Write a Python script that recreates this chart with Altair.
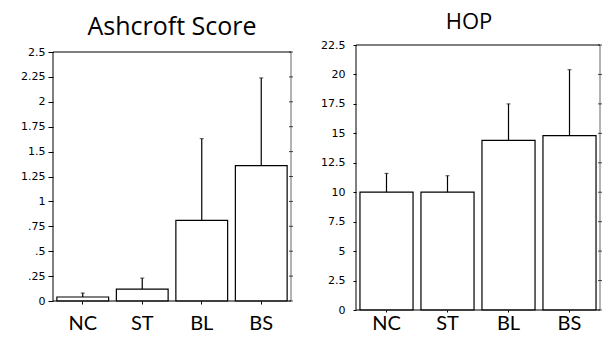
import altair as alt
import pandas as pd

# Group labels and summary statistics (mean and SEM) for both panels
groups = ["NC", "ST", "BL", "BS"]
ashcroft_mean = [0.04, 0.12, 0.81, 1.36]
ashcroft_sem = [0.04, 0.11, 0.82, 0.88]
hop_mean = [10.0, 10.0, 14.4, 14.8]
hop_sem = [1.6, 1.4, 3.1, 5.6]

ashcroft_ticks = [0, 0.25, 0.5, 0.75, 1, 1.25, 1.5, 1.75, 2, 2.25, 2.5]
hop_ticks = [0, 2.5, 5, 7.5, 10, 12.5, 15, 17.5, 20, 22.5]

TICK_FONT = "DejaVu Sans"
TEXT_FONT = "Lato"
TITLE_FONT = "Open Sans"


def panel(title, means, sems, ticks, y_top, y_max, width, height,
          title_size, title_dx, title_offset, label_pad, x_tick,
          y_tick, y_pad):
    df = pd.DataFrame({
        "group": groups,
        "mean": means,
        "upper": [m + s for m, s in zip(means, sems)],
    })
    frame = pd.DataFrame({"lo": [0.0], "hi": [y_top]})
    tick_df = pd.DataFrame({"tick": ticks})

    xscale = alt.Scale(paddingInner=0.13, paddingOuter=0.065)
    yscale = alt.Scale(domain=[0, y_max], nice=False, zero=True)

    label_expr = ("datum.value > 0 && datum.value < 1 ? "
                  "substring(toString(datum.value), 1) : toString(datum.value)")

    x_bottom = alt.X("group:N", sort=groups, scale=xscale, title=None,
                     axis=alt.Axis(orient="bottom", domain=False,
                                   ticks=True, tickSize=x_tick, tickColor="black",
                                   labelAngle=0, labelFont=TEXT_FONT, labelFontSize=20,
                                   labelColor="black", labelPadding=label_pad,
                                   grid=False))
    # one shared axis definition for every layer that encodes y
    y_axis = alt.Axis(orient="left", values=ticks, domain=False,
                      ticks=True, tickSize=y_tick, tickColor="black",
                      labelFont=TICK_FONT, labelFontSize=11,
                      labelColor="black", labelPadding=y_pad,
                      labelOverlap=False, labelExpr=label_expr, grid=False)

    def y(field):
        return alt.Y(field, scale=yscale, title=None, axis=y_axis)

    bars = alt.Chart(df).mark_bar(fill="white", stroke="black", strokeWidth=1.2).encode(
        x=x_bottom, y=y("mean:Q")
    )
    err = alt.Chart(df).mark_rule(color="black", strokeWidth=1.2).encode(
        x=alt.X("group:N", sort=groups), y=y("mean:Q"), y2="upper:Q"
    )
    caps = alt.Chart(df).mark_tick(color="black", size=4, thickness=1).encode(
        x=alt.X("group:N", sort=groups), y=y("upper:Q")
    )

    # frame: left edge, right edge, top line at the last tick, baseline at zero
    left_line = alt.Chart(frame).mark_rule(color="black", strokeWidth=1).encode(
        x=alt.value(0), y=y("lo:Q"), y2="hi:Q"
    )
    right_line = alt.Chart(frame).mark_rule(color="#666666", strokeWidth=1).encode(
        x=alt.value(width), y=y("lo:Q"), y2="hi:Q"
    )
    top_line = alt.Chart(frame).mark_rule(color="black", strokeWidth=1).encode(
        y=y("hi:Q")
    )
    base_line = alt.Chart(frame).mark_rule(color="black", strokeWidth=1.2).encode(
        y=y("lo:Q")
    )
    right_ticks = alt.Chart(tick_df).mark_tick(
        color="black", size=4, thickness=1, orient="horizontal"
    ).encode(x=alt.value(width), y=y("tick:Q"))

    return alt.layer(bars, err, caps, left_line, right_line, top_line, base_line,
                     right_ticks).properties(
        width=width, height=height,
        title=alt.TitleParams(title, font=TITLE_FONT, fontSize=title_size,
                              fontWeight="normal", color="black", anchor="middle",
                              baseline="alphabetic", offset=title_offset, dx=title_dx),
    )


left = panel("Ashcroft Score", ashcroft_mean, ashcroft_sem, ashcroft_ticks,
             y_top=2.5, y_max=2.5 * 256 / 249, width=238, height=256, title_size=25,
             title_dx=0, title_offset=-15, label_pad=9, x_tick=3, y_tick=5, y_pad=3)
right = panel("HOP", hop_mean, hop_sem, hop_ticks,
              y_top=22.5, y_max=22.5, width=244, height=265, title_size=22,
              title_dx=-9, title_offset=-12, label_pad=1, x_tick=2, y_tick=3, y_pad=8)

chart = alt.hconcat(left, right, spacing=65, bounds="flush").properties(
    padding={"left": 20, "top": 11, "right": 0, "bottom": 0}
).configure_view(stroke=None)

chart.save("out.html", embed_options={"renderer": "svg", "actions": False})
